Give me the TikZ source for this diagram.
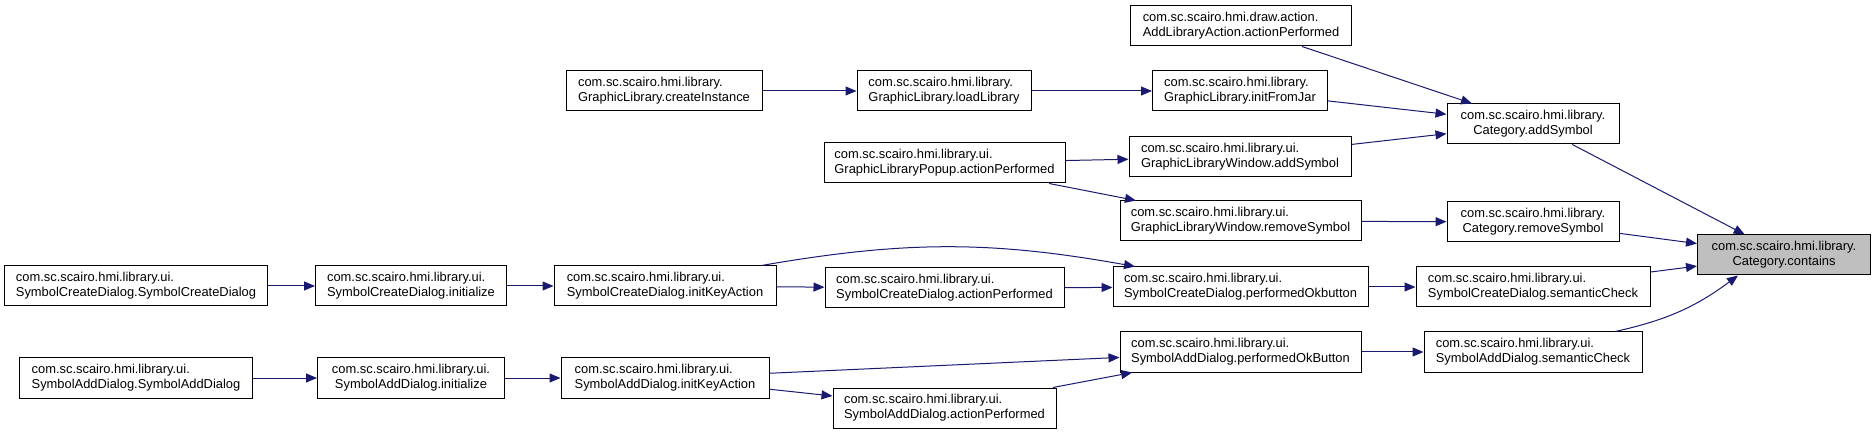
\documentclass[tikz,border=0pt]{standalone}
\usepackage{fontspec}
\setmainfont{Liberation Sans}
\usepackage{xcolor}
\usepackage{tikz}
\usetikzlibrary{
  arrows.meta
}
\definecolor{callBlue}{RGB}{25,25,112}
\definecolor{hitGray}{RGB}{191,191,191}

\begin{document}
\begin{tikzpicture}[x=1pt, y=-1pt,
  font=\fontsize{12.9}{15}\selectfont,
  fn/.style={draw=black, line width=1pt, fill=white, minimum height=40pt, inner sep=2pt, align=left},
  fnc/.style={fn, align=center},
  call/.style={callBlue, line width=1pt, -{Triangle[length=11pt,width=9pt]}}]

\useasboundingbox (0,0) rectangle (1876,435);

% Column 0: constructors
\node[fn, minimum width=263pt] (scdctor) at (136,286) {com.sc.scairo.hmi.library.ui.\\SymbolCreateDialog.SymbolCreateDialog};
\node[fn, minimum width=233pt] (sadctor) at (136,378) {com.sc.scairo.hmi.library.ui.\\SymbolAddDialog.SymbolAddDialog};

% Column 1
\node[fn,  minimum width=191pt] (scdinit) at (411,286) {com.sc.scairo.hmi.library.ui.\\SymbolCreateDialog.initialize};
\node[fnc, minimum width=187pt] (sadinit) at (411,378) {com.sc.scairo.hmi.library.ui.\\SymbolAddDialog.initialize};

% Column 2
\node[fn, minimum width=196pt] (create) at (664,91)  {com.sc.scairo.hmi.library.\\GraphicLibrary.createInstance};
\node[fn, minimum width=222pt] (scdkey) at (665,286) {com.sc.scairo.hmi.library.ui.\\SymbolCreateDialog.initKeyAction};
\node[fn, minimum width=208pt] (sadkey) at (665,378) {com.sc.scairo.hmi.library.ui.\\SymbolAddDialog.initKeyAction};

% Column 3
\node[fn, minimum width=174pt] (load)   at (944,91)    {com.sc.scairo.hmi.library.\\GraphicLibrary.loadLibrary};
\node[fn, minimum width=241pt] (popup)  at (944.5,163) {com.sc.scairo.hmi.library.ui.\\GraphicLibraryPopup.actionPerformed};
\node[fn, minimum width=239pt] (scdact) at (944.5,288) {com.sc.scairo.hmi.library.ui.\\SymbolCreateDialog.actionPerformed};
\node[fn, minimum width=223pt] (sadact) at (944.5,408) {com.sc.scairo.hmi.library.ui.\\SymbolAddDialog.actionPerformed};

% Column 4
\node[fn, minimum width=221pt] (addlib)  at (1241,26)    {com.sc.scairo.hmi.draw.action.\\AddLibraryAction.actionPerformed};
\node[fn, minimum width=175pt] (initjar) at (1240,91)    {com.sc.scairo.hmi.library.\\GraphicLibrary.initFromJar};
\node[fn, minimum width=222pt] (glwadd)  at (1240,157)   {com.sc.scairo.hmi.library.ui.\\GraphicLibraryWindow.addSymbol};
\node[fn, minimum width=241pt] (glwrem)  at (1240.5,221) {com.sc.scairo.hmi.library.ui.\\GraphicLibraryWindow.removeSymbol};
\node[fn, minimum width=255pt] (scdok)   at (1240.5,287) {com.sc.scairo.hmi.library.ui.\\SymbolCreateDialog.performedOkbutton};
\node[fn, minimum width=241pt] (sadok)   at (1240.5,352) {com.sc.scairo.hmi.library.ui.\\SymbolAddDialog.performedOkButton};

% Column 5
\node[fnc, minimum width=172pt] (addsym) at (1533,124) {com.sc.scairo.hmi.library.\\Category.addSymbol};
\node[fnc, minimum width=172pt] (catrem) at (1533,222) {com.sc.scairo.hmi.library.\\Category.removeSymbol};
\node[fn,  minimum width=234pt] (scdsem) at (1533,287) {com.sc.scairo.hmi.library.ui.\\SymbolCreateDialog.semanticCheck};
\node[fn,  minimum width=218pt] (sadsem) at (1533,352) {com.sc.scairo.hmi.library.ui.\\SymbolAddDialog.semanticCheck};

% Column 6: the called function
\node[fnc, fill=hitGray, minimum width=173pt] (contains) at (1784,255) {com.sc.scairo.hmi.library.\\Category.contains};

% Calls
\draw[call] (create) -- (load);
\draw[call] (load) -- (initjar);
\draw[call] (addlib) -- (addsym);
\draw[call] (initjar) -- (addsym);
\draw[call] (glwadd) -- (addsym);
\draw[call] (popup) -- (glwadd);
\draw[call] (popup) -- (glwrem);
\draw[call] (glwrem) -- (catrem);
\draw[call] (addsym) -- (contains);
\draw[call] (catrem) -- (contains);
\draw[call] (scdsem) -- (contains);
\draw[call] (sadsem.14) to[bend right=12] (contains.204);

\draw[call] (scdctor) -- (scdinit);
\draw[call] (scdinit) -- (scdkey);
\draw[call] (scdkey) -- (scdact);
\draw[call] (scdkey.12) to[bend left=10] (scdok.169);
\draw[call] (scdact) -- (scdok);
\draw[call] (scdok) -- (scdsem);

\draw[call] (sadctor) -- (sadinit);
\draw[call] (sadinit) -- (sadkey);
\draw[call] (sadkey) -- (sadok);
\draw[call] (sadkey) -- (sadact);
\draw[call] (sadact) -- (sadok);
\draw[call] (sadok) -- (sadsem);

\end{tikzpicture}
\end{document}
